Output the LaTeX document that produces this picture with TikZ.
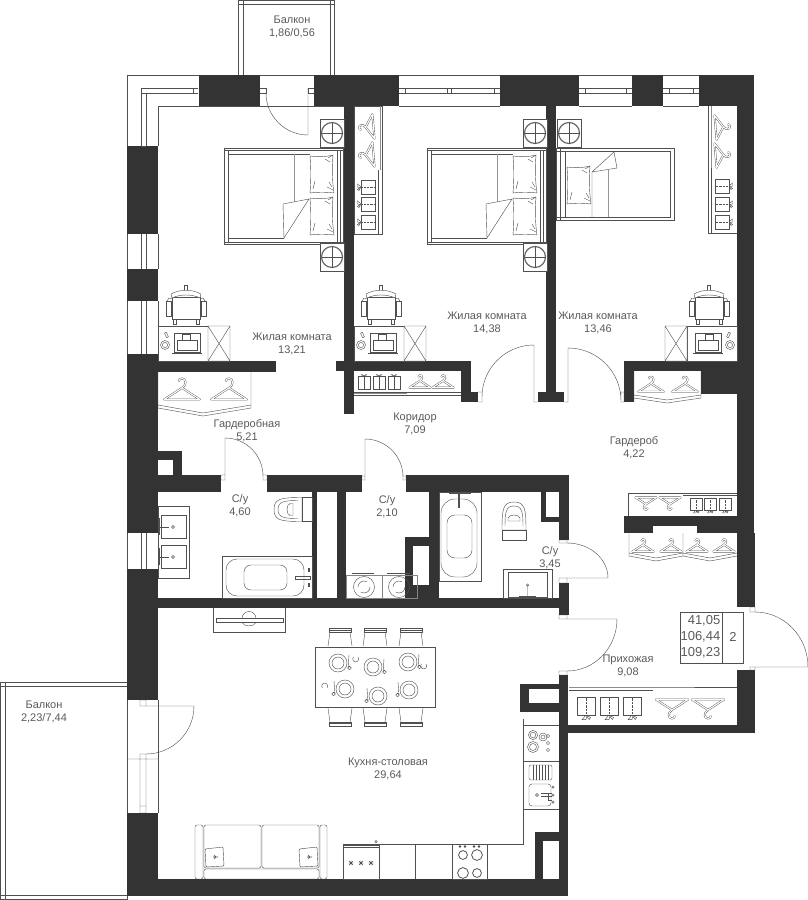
\documentclass[tikz,border=0pt]{standalone}
\usepackage{fontspec}
\setmainfont{Liberation Sans}
\definecolor{wc}{HTML}{333333}
\definecolor{lc}{HTML}{505050}
\definecolor{tc}{HTML}{5A5A5A}
\tikzset{
 ln/.style={draw=lc,line width=.42pt},
 gl/.style={draw=lc!65,line width=.8pt},
 wl/.style={fill=wc,draw=none},
 room/.style={text=tc,align=center,inner sep=0pt,font=\fontsize{11}{13}\selectfont},
 pics/hanger/.style={code={
  \draw[draw=lc,line width=.4pt,double=white,double distance=1.1pt,line join=round]
   (-17,9)--(0,-2)--(17,9)--cycle
   (0,-2) .. controls (5,-5) and (4,-11) .. (0,-11) .. controls (-2,-11) and (-3,-10) .. (-3,-8);
 }},
 pics/shirt/.style={code={
  \draw[ln,fill=white] (0,-7) rectangle (14,7);
  \draw[ln,densely dotted] (0,0)--(14,0);
  \draw[ln] (0,0)--(-3.5,-3)--(-3.5,0)--(-1,.6)--(-3.5,2.5)--(-2,3.5)--(0,0);
 }},
 pics/gift/.style={code={
  \draw[ln,fill=white] (0,0) rectangle (12,13);
  \draw[ln] (6,0)--(6,13);
  \draw[ln] (6,0)..controls (3,-3) and (2,-1)..(6,0)..controls (9,-3) and (10,-1)..(6,0);
 }},
 pics/stand/.style={code={
  \draw[ln,fill=white] (-12,-14) rectangle (12,14);
  \draw[lc!85,line width=1.2pt,fill=white] (0,0) circle (10.5);
  \draw[ln] (-10.5,0)--(10.5,0) (0,-10.5)--(0,10.5);
 }},
 pics/pillow/.style={code={
  \draw[ln,fill=white] (0,0) .. controls (8,1) and (16,1) .. (23,-1) .. controls (22,10) and (22,24) .. (24,37) .. controls (16,36) and (8,36) .. (0,37) .. controls (1,24) and (1,12) .. (0,0);
  \draw[ln] (18,2)--(23,-1) (20,6)--(15,3) (17,31)--(23,34) (19,26)--(22,31) (5,25)--(3,33);
 }},
 pics/bigbed/.style={code={
  \draw[ln,fill=white] (0,0) rectangle (119,96);
  \draw[ln] (0,2)--(119,2) (0,94)--(119,94) (4,2)--(4,94) (113,2)--(113,94) (116,2)--(116,94);
  \draw[ln] (4,6)--(86,6) (4,90)--(60,90);
  \draw[lc!60,line width=.9pt] (70,6)--(70,55);
  \draw[ln,fill=white] (60,90)--(59,56)--(85,51)--cycle;
  \path pic at (86,8) {pillow} pic at (86,50) {pillow};
 }},
 pics/chair/.style={code={
  \draw[ln,fill=white] (-14,11) rectangle (14,33);
  \draw[ln,fill=white] (-15,8) .. controls (-6,3) and (6,3) .. (15,8) -- (14,12) .. controls (6,8) and (-6,8) .. (-14,12) -- cycle;
  \draw[ln,fill=white] (-1.5,4)--(-1.5,-1)--(1.5,-1)--(1.5,4);
  \draw[ln,fill=white] (-20,15) rectangle (-15,30);
  \draw[ln,fill=white] (15,15) rectangle (20,30);
  \draw[ln] (-19,15)--(-17,12)--(-14,13) (19,15)--(17,12)--(14,13);
  \draw[ln,fill=white] (-13,33) rectangle (-10,38) (10,33) rectangle (13,38);
 }},
 pics/desk/.style={code={
  \draw[ln,fill=white] (0,0) rectangle (50,35);
  \draw[ln,fill=white] (50,0) rectangle (72,35) (50,0)--(72,35) (72,0)--(50,35);
  \draw[ln] (16,7) rectangle (42,26);
  \draw[ln] (24,8) rectangle (32,14) (19,14) rectangle (39,24);
  \draw[lc,line width=1pt] (14,27)--(44,27);
  \draw[ln] (7,19) circle (4.5) (7,19) circle (2.6);
  \draw[ln,rotate around={25:(8.5,9)}] (7.5,6.5) rectangle (9.5,11.5);
 }},
 pics/plate/.style={code={
  \draw[ln] (0,0) circle (9) (0,0) circle (6);
  \draw[ln] (11,-8)--(10,6) (11.5,5) circle (1.8);
 }},
 pics/seat/.style={code={
  \draw[ln,fill=white] (-11,-12) rectangle (11,-8);
  \draw[ln] (-11,-9.5)--(11,-9.5);
  \draw[ln] (-10,-8)--(-12,6) (10,-8)--(12,6);
 }},
 pics/bigtoilet/.style={code={
  \draw[ln,fill=white] (-14,0) .. controls (-14,-11) and (-7,-12) .. (14,-12) -- (14,12) .. controls (-7,12) and (-14,11) .. (-14,0) -- cycle;
  \draw[ln] (-10,0) .. controls (-10,-8) and (-4,-9) .. (10,-9) (-10,0) .. controls (-10,8) and (-4,9) .. (10,9);
  \draw[ln] (2,-6)--(5,-6)--(5,6)--(2,6) .. controls (-2,5) and (-2,-5) .. (2,-6);
  \draw[ln,fill=white] (14,-12) rectangle (24,12);
 }}
}
\begin{document}
\begin{tikzpicture}[x=1pt,y=-1pt]
\useasboundingbox (0,0) rectangle (808,900);
% balconies
\draw[ln] (238,75)--(238,0.6)--(334,0.6)--(334,75) (243,75)--(243,0.6) (330,75)--(330,0.6) (238,4)--(334,4);
\draw[ln] (127,682)--(0.6,682)--(0.6,899)--(127,899)--(127,813) (5,682)--(5,899) (0.6,686)--(127,686) (0.6,895)--(127,895);
% walls
\foreach \a/\b/\c/\d in {
 199/75/260/106, 314/75/399/106, 500/75/579/106, 632/75/663/106, 699/75/754/106,
 127/146/158/234, 127/269/158/301, 127/354/158/533, 127/569/158/700, 127/813/158/896,
 158/361/276/372, 127/879/568/896,
 344/106/354/414, 336/361/471/371, 461/371/471/402, 461/392/478/402,
 546/106/556/402, 538/392/564/402,
 624/361/754/371, 624/371/634/402, 701/371/754/394, 737/106/754/533,
 158/451/182/460, 173/460/182/475, 127/475/221/492, 267/475/362/492, 406/475/569/492,
 312/492/317/598, 337/492/346/598, 127/598/569/608,
 429/492/439/598, 405/537/429/546, 405/537/413/598, 405/585/429/598,
 541/492/546/522, 541/517/569/522, 559/492/569/540, 559/583/569/615,
 624/516/754/533, 737/533/755/607, 737/670/755/733, 568/725/755/733,
 559/675/568/896, 520/684/559/689, 520/703/559/712, 520/689/529/703,
 535/832/559/841, 535/841/543/879}
 {\fill[wl] (\a,\b) rectangle (\c,\d);}
\fill[white] (653,526) rectangle (697,533);
% facade outline
\draw[ln] (199,75)--(127,75)--(127,146) (158,146)--(158,106)--(199,106);
\foreach \a/\b in {260/314,399/500,579/632,663/699} {\draw[ln] (\a,75)--(\b,75) (\a,106)--(\b,106);}
\foreach \a/\b in {234/269,301/354,533/569,700/813} {\draw[ln] (127,\a)--(127,\b) (158,\a)--(158,\b);}
\draw[ln] (158,106)--(344,106);
% windows
\draw[ln] (146,146)--(146,93)--(198,93) (141,146)--(141,88)--(198,88) (141,146)--(146,146) (141,93)--(146,93) (193,88)--(193,93);
\foreach \a/\b in {399/500,579/632,663/699} {\draw[ln] (\a,88)--(\b,88) (\a,93)--(\b,93) (\a+6,88)--(\a+6,93) (\b-6,88)--(\b-6,93);}
\draw[ln] (447,88)--(447,93) (451,88)--(451,93);
\foreach \a/\b in {234/269,301/354,533/569} {\draw[ln] (141,\a)--(141,\b) (146,\a)--(146,\b);}
% doors
\draw[ln] (260,88)--(266,88)--(266,93)--(260,93) (314,88)--(308,88)--(308,93)--(314,93);
\draw[ln] (308,88)--(308,135) (266,93) arc (180:90:42);
\draw[ln] (225,475)--(225,438) arc (-90:0:38) (221,475) rectangle (225,480) (263,475) rectangle (267,480);
\draw[ln] (365,476)--(365,439) arc (-90:0:38) (362,476) rectangle (365,480) (403,476) rectangle (406,480);
\draw[ln] (534,402)--(534,345) (482,397) arc (180:270:52) (478,392)--(482,392)--(482,402)--(478,402) (534,402)--(538,402);
\draw[ln] (568,402)--(568,348) arc (-90:0:53) (564,402)--(568,402) (621,402)--(624,402)--(624,392)--(621,392)--(621,402);
\draw[ln] (567,578)--(608,578) (567,543) arc (-90:0:41 and 35) (559,540) rectangle (567,543) (559,578) rectangle (567,583);
\draw[ln] (567,619)--(617,619) arc (0:90:50 and 52) (559,615) rectangle (567,619) (559,671) rectangle (567,675);
\draw[ln] (755,667)--(808,667) (755,612) arc (-90:0:53 and 55) (750,607) rectangle (755,612) (750,667) rectangle (755,670);
\draw[ln] (146,706)--(194,706) arc (0:90:48) (127,759)--(158,759) (140,700) rectangle (146,706) (146,706)--(158,706) (140,754) rectangle (146,813) (140,759)--(146,759) (140,806)--(146,806);
% bedroom furniture
\path pic at (224,148) {bigbed} pic at (427,148) {bigbed};
\foreach \x/\y in {332/133,332/257,535/133,535/257,569/133} {\path pic at (\x,\y) {stand};}
% single bed
\draw[ln,fill=white] (556,148) rectangle (674,220);
\draw[ln] (556,151)--(670,151)--(670,217)--(556,217) (560,148)--(560,220) (565,151)--(565,217);
\draw[ln,fill=white] (592,217)--(592,172)--(614,152)--(617,168)--(592,172);
\draw[lc!60,line width=.9pt] (608,170)--(608,217);
\path pic at (567,167) {pillow};
% chairs and desks
\path pic at (186,286) {chair} pic at (158,326) {desk};
\path pic at (381,286) {chair} pic at (354,326) {desk};
\path pic at (709,286) {chair};
\path pic[xscale=-1] at (737,326) {desk};
% closets bedrooms
\draw[ln] (354,106) rectangle (382,234);
\draw[gl] (380,106)--(380,170);
\draw[ln] (378,170)--(378,234);
\path pic[rotate=95,scale=.72] at (367,127) {hanger} pic[rotate=95,scale=.72] at (367,155) {hanger};
\foreach \y in {187,204,222} {\path pic at (361,\y) {shirt};}
\draw[ln] (708,106)--(708,233)--(737,233);
\draw[gl] (711,106)--(711,168);
\draw[ln] (711,168)--(711,233);
\path pic[rotate=-85,scale=.72] at (722,127) {hanger} pic[rotate=-85,scale=.72] at (722,155) {hanger};
\foreach \y in {186,204,222} {\path pic[xscale=-1] at (729,\y) {shirt};}
% wardrobes
\draw[ln] (158,372)--(158,408) (251,372)--(251,408)--(203,416)--(158,408) (251,405)--(203,413)--(158,405);
\path pic[scale=1.05] at (182,390) {hanger} pic[scale=1.05] at (229,390) {hanger};
\draw[ln] (354,392)--(461,392) (354,395)--(461,395);
\draw[gl] (354,393.5)--(407,393.5);
\foreach \x in {358,373,388} {\path pic at (\x,376) {gift};}
\path pic[scale=.62] at (420,382) {hanger} pic[scale=.62] at (443,382) {hanger};
\draw[ln] (634,371)--(634,402) (701,371)--(701,398)--(667,403)--(634,398) (701,395)--(667,400)--(634,395);
\path pic[scale=.75] at (651,385) {hanger} pic[scale=.75] at (685,385) {hanger};
\draw[ln] (628,516)--(628,493)--(737,493) (683,495)--(737,495);
\path pic[rotate=180,scale=.62] at (646,503) {hanger} pic[rotate=180,scale=.62] at (670,503) {hanger};
\foreach \x in {696,710,725} {\path pic[rotate=90,scale=.85] at (\x,510) {shirt};}
\draw[ln] (629,533)--(629,556)--(656,561)--(683,556)--(710,561)--(737,556) (683,533)--(683,556) (629,553)--(656,558)--(683,553)--(710,558)--(737,553);
\foreach \x in {643,671,697,724} {\path pic[scale=.62] at (\x,546) {hanger};}
\draw[ln] (569,687)--(653,687)--(737,687) (569,690)--(653,690);
\foreach \x in {586,609,632} {\path pic[rotate=90,scale=1.3] at (\x,715) {shirt};}
\path pic[rotate=180,scale=.95] at (672,708) {hanger} pic[rotate=180,scale=.95] at (708,708) {hanger};
% bathroom 4,60
\draw[ln,fill=white] (158,506) rectangle (189,578) (161,515) rectangle (186,538) (161,545) rectangle (186,568);
\draw[lc,line width=1pt] (160,527)--(169,527) (160,557)--(169,557);
\draw[ln] (173,527) circle (1.5) (173,557) circle (1.5);
\draw[lc,line width=1.5pt] (158.8,518)--(158.8,535) (158.8,548)--(158.8,565);
\path pic at (288,509.5) {bigtoilet};
\draw[ln,fill=white] (222,556) rectangle (312,598);
\draw[ln,rounded corners=11pt] (226,559) rectangle (304,596);
\draw[ln,rounded corners=7pt] (244,565) rectangle (287,590);
\draw[ln] (295,576) rectangle (310,579);
\draw[lc,line width=2pt] (309,568)--(309,572) (309,583)--(309,587);
% TV
\draw[ln] (213,608)--(213,632)--(285,632)--(285,608);
\draw[ln,fill=white] (216,618.5) rectangle (283,622.5);
\draw[ln] (242,618.5) arc (180:360:7) (242,622.5) .. controls (244,627) and (254,627) .. (256,622.5);
% washers
\draw[lc!70,line width=.4pt] (346,575) rectangle (382,598) (382,575) rectangle (417,598);
\draw[ln] (352,573.5)--(374,573.5) (387,573.5)--(410,573.5);
\foreach \x in {364,399} {\draw[ln] (\x,587) circle (10.5); \draw[ln] (\x-6,587) arc (180:300:6) (\x+6,587) arc (0:120:6);}
% bathroom 2
\draw[ln] (439,492) rectangle (481,581);
\draw[ln,rounded corners=14pt] (441,499) rectangle (477,577);
\draw[ln,rounded corners=8pt] (447,515) rectangle (472,558);
\draw[lc,line width=1.4pt] (459,492)--(459,508);
\draw[lc,line width=2pt] (449,493)--(471,493);
\path pic[rotate=-90] at (514,516) {bigtoilet};
\draw[ln,fill=white] (503,569) rectangle (552,598) (508,572) rectangle (547,597);
\draw[ln] (527.5,585)--(527.5,597) (527.5,585) circle (1.2);
\draw[lc,line width=1.4pt] (519,597)--(536,597);
% table
\foreach \x in {340,375,411} {\path pic at (\x,640) {seat}; \path pic[yscale=-1] at (\x,714) {seat};}
\draw[ln,fill=white] (315,647) rectangle (435,707);
\path pic at (338,663) {plate} pic at (373,667) {plate} pic at (408,662) {plate};
\path pic[xscale=-1] at (345,689) {plate} pic[xscale=-1] at (378,696) {plate} pic[xscale=-1] at (409,690) {plate};
\draw[ln] (358,657) arc (-40:220:3) (426,664) arc (-40:220:3) (327,688) arc (40:-220:3);
% kitchen
\draw[ln] (523,719)--(523,844)--(343,844);
\draw[ln] (523,725)--(559,725) (523,761)--(559,761) (523,809)--(559,809);
\draw[ln] (533,735) circle (4.6) (533,735) circle (2.8) (533,747) circle (5.5) (533,747) circle (3.5) (543,737) circle (4) (543,737) circle (2);
\foreach \y in {736,743,750} {\draw[ln] (548,\y) circle (1.6);}
\draw[ln,rounded corners=2pt] (529,765) rectangle (552,780);
\foreach \x in {533,536,539,542,545,548} {\draw[ln] (\x,765)--(\x,780);}
\draw[ln,rounded corners=3pt] (529,784) rectangle (551,806);
\draw[ln] (537,795) circle (1.5) (553,787) circle (1.2) (553,795) circle (1.2) (553,802) circle (1.2);
\draw[ln] (541,793)--(552,793) (541,796)--(552,796) (548,793)--(548,800)--(552,800);
\draw[ln,fill=white] (343,845) rectangle (379,879) (343,847)--(379,847);
\draw[ln] (376,841.5) circle (1.2);
\foreach \x in {351,361,371} {\draw[ln] (\x-2.6,863)--(\x+2.6,863) (\x,860.4)--(\x,865.6) (\x-1.9,861.1)--(\x+1.9,864.9) (\x-1.9,864.9)--(\x+1.9,861.1);}
\draw[ln] (415,844)--(415,879);
\draw[ln] (452,844)--(452,879)--(487,879)--(487,844);
\draw[lc,line width=.8pt] (463,855) circle (4.4) (477,855) circle (5.4) (463,873) circle (5.4) (477,873) circle (4.4);
\foreach \x in {460,465,474,479} {\fill[lc] (\x,846.5) circle (1.3);}
% sofa
\draw[ln,rounded corners=2pt] (195,825) rectangle (203,879) (204,825) rectangle (261,868) (262,825) rectangle (319,868) (204,869) rectangle (319,879) (320,825) rectangle (327,879);
\draw[ln,fill=white,rounded corners=1pt] (205,849) -- (223,847) -- (224,866) -- (206,867) -- cycle;
\draw[ln,fill=white,rounded corners=1pt] (299,849) -- (317,847) -- (318,866) -- (300,867) -- cycle;
\draw[lc,line width=.6pt] (213,857)--(218,857) (214,855)--(216,857)--(214,859) (307,857)--(312,857) (308,855)--(310,857)--(308,859);
% info box
\draw[ln] (680,612) rectangle (743,663) (722,612)--(722,663);
\node[text=tc,inner sep=0pt,font=\fontsize{13}{16}\selectfont,align=right,anchor=east] (info) at (720.5,637) {41,05\\106,44\\109,23};
\node[text=tc,inner sep=0pt,font=\fontsize{13}{16}\selectfont] (rooms) at (733,637) {2};
% labels
\node[room] (balc1) at (292,26.5) {Балкон\\1,86/0,56};
\node[room] (r1) at (292,343.5) {Жилая комната\\13,21};
\node[room] (r2) at (487,322.5) {Жилая комната\\14,38};
\node[room] (r3) at (598,322.5) {Жилая комната\\13,46};
\node[room] (gb) at (247,430.5) {Гардеробная\\5,21};
\node[room] (kor) at (415,423.5) {Коридор\\7,09};
\node[room] (gr) at (634,447.5) {Гардероб\\4,22};
\node[room] (wc1) at (240,505.5) {С/у\\4,60};
\node[room] (wc2) at (387,506.5) {С/у\\2,10};
\node[room] (wc3) at (550,557.5) {С/у\\3,45};
\node[room] (pr) at (628,665.5) {Прихожая\\9,08};
\node[room] (kit) at (388,768.5) {Кухня-столовая\\29,64};
\node[room] (balc2) at (44,711.5) {Балкон\\2,23/7,44};
\end{tikzpicture}
\end{document}
